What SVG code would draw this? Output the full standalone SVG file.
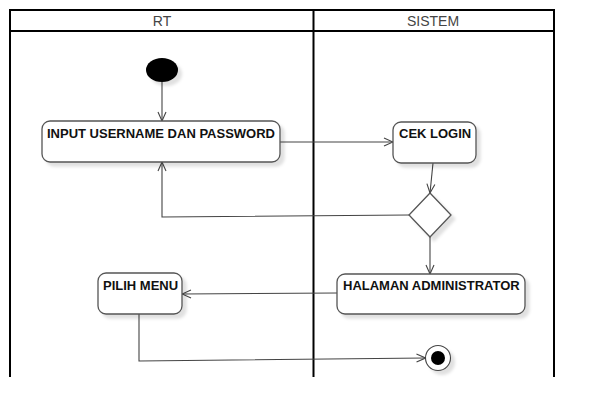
<svg xmlns="http://www.w3.org/2000/svg" width="594" height="418" viewBox="0 0 594 418">
  <style>
    .lane { stroke: #000; stroke-width: 2; fill: none; }
    .hdr { font-family: "Liberation Sans", Arial, sans-serif; font-size: 14px; fill: #444; text-anchor: middle; }
    .node { fill: #fff; stroke: #555; stroke-width: 1.3; }
    .lbl { font-family: "Liberation Sans", Arial, sans-serif; font-size: 13px; font-weight: bold; fill: #111; }
    .conn { fill: none; stroke: #444; stroke-width: 1.1; }
  </style>
  <defs>
    <filter id="shadow" x="-20%" y="-20%" width="150%" height="150%">
      <feGaussianBlur in="SourceAlpha" stdDeviation="1.5" result="b"/>
      <feOffset in="b" dx="4" dy="4" result="o"/>
      <feFlood flood-color="#000" flood-opacity="0.12"/>
      <feComposite in2="o" operator="in" result="s"/>
      <feMerge><feMergeNode in="s"/><feMergeNode in="SourceGraphic"/></feMerge>
    </filter>
    <marker id="arrow" viewBox="0 0 10 10" refX="10" refY="5" markerWidth="10" markerHeight="10" markerUnits="userSpaceOnUse" orient="auto">
      <path d="M1,1 L10,5 L1,9" fill="none" stroke="#444" stroke-width="1.1"/>
    </marker>
  </defs>
  <rect width="594" height="418" fill="#fff"/>

  <g id="swimlanes">
    <line class="lane" x1="9" y1="10" x2="555" y2="10"/>
    <line class="lane" x1="10" y1="31" x2="554" y2="31"/>
    <line class="lane" x1="10" y1="9" x2="10" y2="377"/>
    <line class="lane" x1="313.5" y1="10" x2="313.5" y2="377"/>
    <line class="lane" x1="554" y1="9" x2="554" y2="377"/>
    <text class="hdr" x="162" y="26">RT</text>
    <text class="hdr" x="433" y="26">SISTEM</text>
  </g>

  <g id="connectors">
    <line class="conn" x1="162" y1="82" x2="162" y2="121" marker-end="url(#arrow)"/>
    <line class="conn" x1="280" y1="142" x2="393" y2="142" marker-end="url(#arrow)"/>
    <line class="conn" x1="433" y1="163" x2="430" y2="193" marker-end="url(#arrow)"/>
    <polyline class="conn" points="409,215 162,217 162,162" marker-end="url(#arrow)"/>
    <line class="conn" x1="430" y1="237" x2="430" y2="274" marker-end="url(#arrow)"/>
    <line class="conn" x1="337" y1="293" x2="182" y2="294" marker-end="url(#arrow)"/>
    <polyline class="conn" points="139,314 139,361 425.5,358" marker-end="url(#arrow)"/>
  </g>

  <g id="start">
    <ellipse cx="162" cy="70" rx="16" ry="12" fill="#000" filter="url(#shadow)"/>
  </g>

  <g id="input-username-dan-password">
    <rect class="node" x="42" y="121" width="238" height="41" rx="8" filter="url(#shadow)"/>
    <text class="lbl" x="47" y="138">INPUT USERNAME DAN PASSWORD</text>
  </g>

  <g id="cek-login">
    <rect class="node" x="393" y="122" width="83" height="41" rx="8" filter="url(#shadow)"/>
    <text class="lbl" x="399" y="138">CEK LOGIN</text>
  </g>

  <g id="decision">
    <polygon class="node" points="430,193 451,215 430,237 409,215" filter="url(#shadow)"/>
  </g>

  <g id="halaman-administrator">
    <rect class="node" x="337" y="274" width="188" height="40" rx="8" filter="url(#shadow)"/>
    <text class="lbl" x="343" y="290">HALAMAN ADMINISTRATOR</text>
  </g>

  <g id="pilih-menu">
    <rect class="node" x="98" y="273" width="84" height="41" rx="8" filter="url(#shadow)"/>
    <text class="lbl" x="103" y="290">PILIH MENU</text>
  </g>

  <g id="end">
    <circle cx="438" cy="358" r="12.5" fill="#fff" stroke="#444" stroke-width="1.1" filter="url(#shadow)"/>
    <circle cx="438" cy="358" r="7" fill="#000"/>
  </g>
</svg>
